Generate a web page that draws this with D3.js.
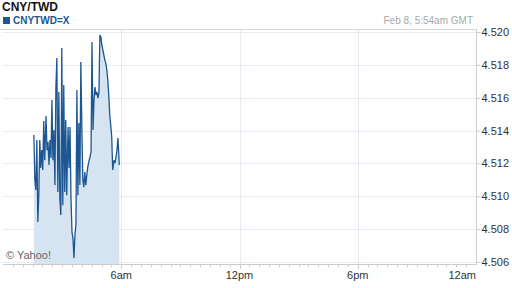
<!DOCTYPE html>
<html>
<head>
<meta charset="utf-8">
<script src="https://cdn.jsdelivr.net/npm/d3@7"></script>
<style>
  body { margin: 0; background: #fff; }
  svg { display: block; font-family: "Liberation Sans", Arial, sans-serif; }
</style>
</head>
<body>
<svg width="512" height="288"></svg>
<script>
// quotes for CNYTWD=X, Feb 8 (GMT)
const times = [
  "01:34","01:37","01:40","01:43","01:46","01:49","01:52","01:55","01:58","02:01",
  "02:04","02:07","02:11","02:14","02:17","02:20","02:23","02:26","02:29","02:32",
  "02:35","02:38","02:41","02:44","02:47","02:50","02:53","02:56","02:59","03:02",
  "03:05","03:08","03:11","03:14","03:18","03:21","03:24","03:27","03:30","03:33",
  "03:36","03:39","03:42","03:45","03:48","03:51","03:54","03:57","04:00","04:03",
  "04:06","04:09","04:12","04:15","04:18","04:21","04:24","04:28","04:31","04:34",
  "04:37","04:40","04:43","04:46","04:49","04:52","04:55","04:58","05:01","05:04",
  "05:07","05:10","05:13","05:16","05:19","05:22","05:25","05:28","05:31","05:34",
  "05:38","05:41","05:44","05:47","05:50","05:54"
];
const rates = [
  4.51373,4.51099,4.51038,4.51342,4.50843,4.51007,4.51342,4.51172,4.51281,4.51160,
  4.51458,4.51220,4.51488,4.51281,4.51330,4.51190,4.51342,4.51233,4.51586,4.51220,
  4.51403,4.51068,4.51659,4.51842,4.51026,4.51635,4.50989,4.50886,4.51903,4.50946,
  4.51677,4.51026,4.51464,4.51007,4.51421,4.51172,4.51421,4.50989,4.50782,4.50745,
  4.50624,4.50764,4.50825,4.51647,4.51007,4.51446,4.51068,4.51817,4.51421,4.51099,
  4.51056,4.51147,4.51068,4.51129,4.51178,4.51208,4.51233,4.51269,4.51939,4.51403,
  4.51586,4.51665,4.51616,4.51635,4.51598,4.51629,4.51982,4.51970,4.51921,4.51890,
  4.51860,4.51829,4.51811,4.51769,4.51708,4.51616,4.51495,4.51434,4.51361,4.51160,
  4.51220,4.51202,4.51239,4.51281,4.51354,4.51190
];
const yTicks = [4.506, 4.508, 4.510, 4.512, 4.514, 4.516, 4.518, 4.520];
const xLabels = ["6am", "12pm", "6pm", "12am"];

const parseTime = d3.utcParse("%Y-%m-%d %H:%M");
const data = times.map((t, i) => ({ t: parseTime("2013-02-08 " + t), v: rates[i] }));

const svg = d3.select("svg");
const plotLeft = 3, plotRight = 476, plotTop = 29, plotBottom = 264;

const dayStart = parseTime("2013-02-08 00:00");
const dayEnd = d3.utcDay.offset(dayStart, 1);

const x = d3.scaleUtc().domain([dayStart, dayEnd]).range([plotLeft, plotRight]);
const y = d3.scaleLinear().domain([4.506, 4.520]).range([262, 32]);

// gridlines
svg.append("g")
  .selectAll("line")
  .data(yTicks)
  .enter()
  .append("line")
  .attr("x1", plotLeft)
  .attr("x2", plotRight)
  .attr("y1", d => Math.round(y(d)) + 0.5)
  .attr("y2", d => Math.round(y(d)) + 0.5)
  .attr("stroke", "#e7ebf1");

const majorHours = d3.utcHour.every(6).range(d3.utcHour.offset(dayStart, 1), d3.utcHour.offset(dayEnd, 1));
svg.append("g")
  .selectAll("line")
  .data(majorHours.slice(0, 3))
  .enter()
  .append("line")
  .attr("x1", d => Math.round(x(d)) + 0.5)
  .attr("x2", d => Math.round(x(d)) + 0.5)
  .attr("y1", plotTop)
  .attr("y2", plotBottom)
  .attr("stroke", "#e7ebf1");

// area + line
const area = d3.area()
  .x(d => x(d.t))
  .y0(plotBottom)
  .y1(d => y(d.v));

const line = d3.line()
  .x(d => x(d.t))
  .y(d => y(d.v));

svg.append("path")
  .datum(data)
  .attr("d", area)
  .attr("fill", "#d5e4f0");

svg.append("path")
  .datum(data)
  .attr("d", line)
  .attr("fill", "none")
  .attr("stroke", "#1d5690")
  .attr("stroke-width", 1.3);

// frame
svg.append("line")
  .attr("x1", 0).attr("x2", plotRight + 0.5)
  .attr("y1", plotTop + 0.5).attr("y2", plotTop + 0.5)
  .attr("stroke", "#d8d8d8");
svg.append("line")
  .attr("x1", plotLeft).attr("x2", plotRight + 0.5)
  .attr("y1", plotBottom + 0.5).attr("y2", plotBottom + 0.5)
  .attr("stroke", "#cccccc");
svg.append("line")
  .attr("x1", plotRight + 0.5).attr("x2", plotRight + 0.5)
  .attr("y1", plotTop).attr("y2", plotBottom + 1)
  .attr("stroke", "#cccccc");

// right axis
const yAxis = svg.append("g")
  .attr("transform", "translate(" + (plotRight + 0.5) + ",0)")
  .call(d3.axisRight(y).tickValues(yTicks).tickFormat(d3.format(".3f")).tickSize(4).tickPadding(1));
yAxis.select(".domain").remove();
yAxis.selectAll(".tick line").attr("stroke", "#cccccc");
yAxis.selectAll(".tick text")
  .attr("fill", "#333")
  .style("font-size", "11px")
  .style("font-family", "'Liberation Sans', Arial, sans-serif");

// bottom axis: minor ticks every 30 min, major every 6 h
const minor = d3.utcMinute.every(30).range(d3.utcMinute.offset(dayStart, 30), dayEnd);
svg.append("g")
  .selectAll("line")
  .data(minor)
  .enter()
  .append("line")
  .attr("x1", d => Math.round(x(d)) + 0.5)
  .attr("x2", d => Math.round(x(d)) + 0.5)
  .attr("y1", plotBottom + 1)
  .attr("y2", d => (d.getUTCHours() % 6 === 0 && d.getUTCMinutes() === 0) ? plotBottom + 5 : plotBottom + 3)
  .attr("stroke", "#cccccc");

svg.append("g")
  .selectAll("text")
  .data(majorHours)
  .enter()
  .append("text")
  .attr("x", (d, i) => i === xLabels.length - 1 ? plotRight : x(d))
  .attr("y", 279)
  .attr("text-anchor", (d, i) => i === xLabels.length - 1 ? "end" : "middle")
  .attr("fill", "#333")
  .style("font-size", "11px")
  .text((d, i) => xLabels[i]);

// header
svg.append("text")
  .attr("x", 2).attr("y", 11)
  .attr("fill", "#111")
  .style("font-size", "12px")
  .style("font-weight", "bold")
  .text("CNY/TWD");

svg.append("rect")
  .attr("x", 3).attr("y", 17)
  .attr("width", 7).attr("height", 7)
  .attr("fill", "#1d5690");

svg.append("text")
  .attr("x", 13).attr("y", 24)
  .attr("fill", "#1d5690")
  .style("font-size", "10px")
  .style("font-weight", "bold")
  .text("CNYTWD=X");

svg.append("text")
  .attr("x", 473).attr("y", 24)
  .attr("text-anchor", "end")
  .attr("fill", "#a8a8a8")
  .style("font-size", "10px")
  .text("Feb 8, 5:54am GMT");

svg.append("text")
  .attr("x", 6).attr("y", 259)
  .attr("fill", "#666")
  .style("font-size", "11px")
  .text("© Yahoo!");
</script>
</body>
</html>
